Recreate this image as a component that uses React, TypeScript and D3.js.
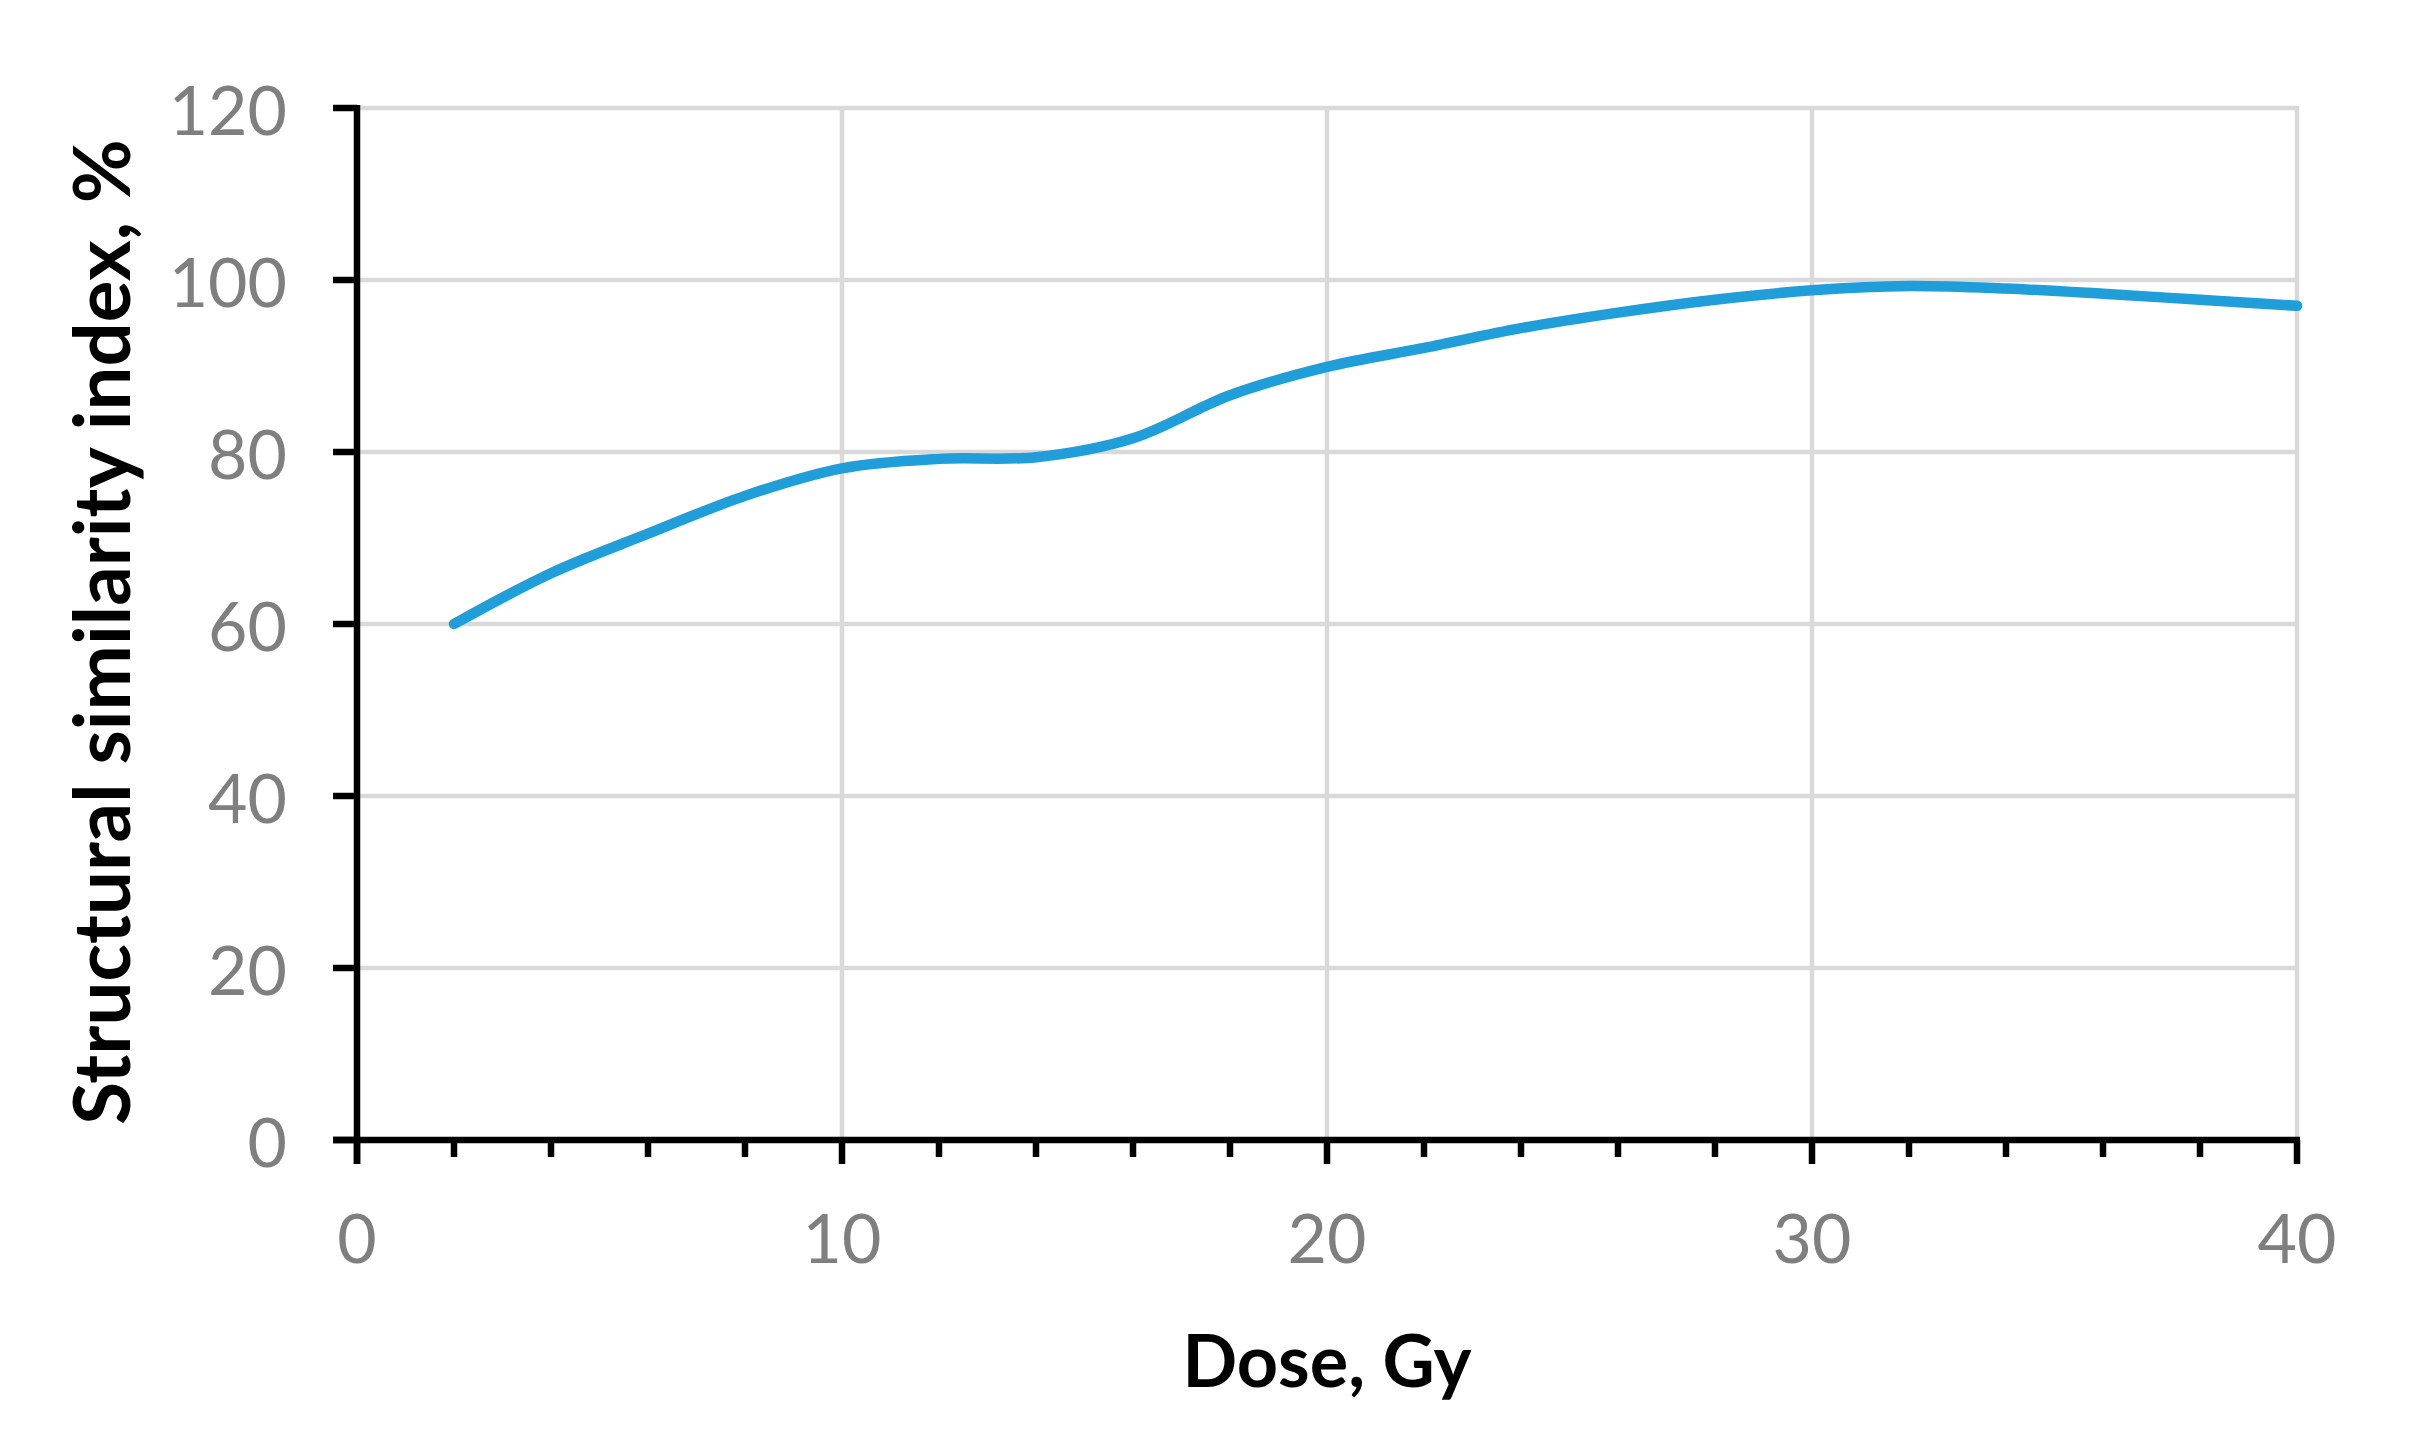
import * as d3 from 'd3'

// dose (Gy) and structural similarity index (%)
const doses = [2, 4, 6, 8, 10, 12, 14, 16, 18, 20, 22, 24, 26, 28, 30, 32, 34, 36, 38, 40]
const ssim = [60, 65.9, 70.5, 74.9, 78.1, 79.2, 79.4, 81.6, 86.6, 89.9, 92.1, 94.4, 96.2, 97.7, 98.8, 99.3, 99.0, 98.4, 97.7, 97.0]

const xMajorTicks = [0, 10, 20, 30, 40]
const xMinorTicks = [2, 4, 6, 8, 12, 14, 16, 18, 22, 24, 26, 28, 32, 34, 36, 38]
const yTicks = [0, 20, 40, 60, 80, 100, 120]

const W = 2412
const H = 1448
const FONT = 'Lato, "Open Sans", sans-serif'

export default function App() {
  const x = d3.scaleLinear().domain([0, 40]).range([357, 2297])
  const y = d3.scaleLinear().domain([0, 120]).range([1140, 108])

  const pts = doses.map((d, i) => [d, ssim[i]] as [number, number])
  const line = d3
    .line<[number, number]>()
    .x((d) => x(d[0]))
    .y((d) => y(d[1]))
    .curve(d3.curveCatmullRom.alpha(0.5))

  const [x0, x1] = x.range()
  const [y0, y1] = y.range()

  return (
    <svg
      width={W}
      height={H}
      style={{ position: 'absolute', left: 0, top: 0, background: '#fff' }}
    >
      {/* grid */}
      <g stroke="#d9d9d9" strokeWidth={4.5}>
        {yTicks.filter((t) => t > 0).map((t) => (
          <line key={'gy' + t} x1={x0} x2={x1} y1={y(t)} y2={y(t)} />
        ))}
        {xMajorTicks.filter((t) => t > 0).map((t) => (
          <line key={'gx' + t} x1={x(t)} x2={x(t)} y1={y0} y2={y1 - 2} />
        ))}
      </g>

      {/* series */}
      <path
        d={line(pts) ?? ''}
        fill="none"
        stroke="#1f9ed9"
        strokeWidth={10.5}
        strokeLinecap="round"
        strokeLinejoin="round"
      />

      {/* axes */}
      <g stroke="#000" strokeWidth={6.5}>
        <line x1={x0} x2={x0} y1={y1 - 3} y2={y0 + 24} />
        <line x1={x0 - 24} x2={x1 + 3} y1={y0} y2={y0} />
        {yTicks.map((t) => (
          <line key={'ty' + t} x1={x0 - 24} x2={x0} y1={y(t)} y2={y(t)} />
        ))}
        {xMajorTicks.map((t) => (
          <line key={'tx' + t} x1={x(t)} x2={x(t)} y1={y0} y2={y0 + 24} />
        ))}
        {xMinorTicks.map((t) => (
          <line key={'tm' + t} x1={x(t)} x2={x(t)} y1={y0} y2={y0 + 17} />
        ))}
      </g>

      {/* tick labels */}
      <g fill="#7f7f7f" fontFamily={FONT} fontSize={68}>
        {yTicks.map((t) => (
          <text key={'ly' + t} x={287} y={y(t)} textAnchor="end" dominantBaseline="central">
            {t}
          </text>
        ))}
        {xMajorTicks.map((t) => (
          <text key={'lx' + t} x={x(t)} y={1263} textAnchor="middle">
            {t}
          </text>
        ))}
      </g>

      {/* axis titles */}
      <text
        x={(x0 + x1) / 2}
        y={1387}
        textAnchor="middle"
        fontFamily={FONT}
        fontWeight="bold"
        fontSize={72}
        fill="#000"
      >
        Dose, Gy
      </text>
      <text
        transform={`translate(130, ${(y0 + y1) / 2 + 8}) rotate(-90)`}
        textAnchor="middle"
        fontFamily={FONT}
        fontWeight="bold"
        fontSize={78}
        fill="#000"
      >
        Structural similarity index, %
      </text>
    </svg>
  )
}
